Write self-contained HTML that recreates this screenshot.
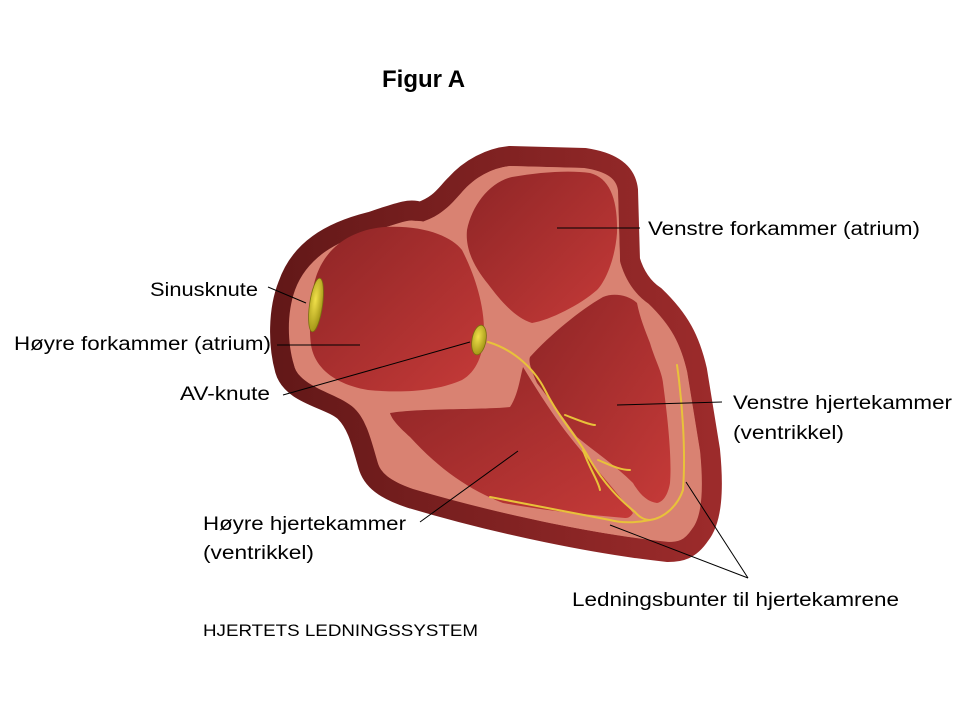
<!DOCTYPE html>
<html><head><meta charset="utf-8"><style>
html,body{margin:0;padding:0;background:#fff;}
svg{display:block;}
text{font-family:"Liberation Sans",sans-serif;fill:#000;}
</style></head><body>
<svg width="960" height="720" viewBox="0 0 960 720" xmlns="http://www.w3.org/2000/svg">
<defs>
<linearGradient id="ring" x1="0" y1="0" x2="1" y2="0">
<stop offset="0" stop-color="#631818"/><stop offset="1" stop-color="#9c2b2b"/>
</linearGradient>
<linearGradient id="ch" x1="0" y1="0" x2="1" y2="1">
<stop offset="0" stop-color="#8e2526"/><stop offset="1" stop-color="#c53a38"/>
</linearGradient>
<radialGradient id="yel" cx="0.4" cy="0.4" r="0.7">
<stop offset="0" stop-color="#f0e04a"/><stop offset="1" stop-color="#9a8d10"/>
</radialGradient>
</defs>
<text x="382" y="87" font-size="24" font-weight="bold">Figur A</text>

<path d="M370,222 C400,212 410,208 420,212 C440,205 445,195 455,185 C470,168 490,158 510,156 L585,158 C612,162 626,172 628,190 L630,260 C636,280 646,290 655,296 C680,320 690,340 697,370 L710,450 C714,490 712,520 700,535 C690,550 680,552 668,552 C600,545 500,525 410,498 C385,490 372,480 368,465 C362,445 358,425 345,412 C330,398 292,395 285,370 C278,345 278,310 288,285 C300,250 330,232 370,222 Z" fill="#d98272" stroke="url(#ring)" stroke-width="20" stroke-linejoin="round"/>
<path d="M372,232 C400,222 415,219 425,222 C440,215 455,202 462,192 C475,177 492,168 510,166 L582,168 C605,172 617,182 618,198 L620,262 C625,285 637,298 648,306 C671,326 681,345 687,372 L700,452 C703,488 701,514 691,527 C683,538 674,541 664,541 C600,535 505,516 413,489 C392,482 382,474 378,460 C372,440 368,422 354,408 C338,393 300,388 294,365 C287,342 287,312 295,290 C306,260 333,242 372,232 Z" fill="#d98272"/>

<path d="M312,300 C314,255 345,230 385,227 C425,225 452,237 462,250 C475,275 484,305 484,330 C484,355 476,372 462,380 C435,392 400,393 368,390 C338,385 315,370 311,345 C309,330 310,315 312,300 Z" fill="url(#ch)"/>
<path d="M467,230 C472,205 490,182 512,177 C540,172 570,170 590,173 C610,178 618,200 617,233 C615,260 605,282 597,290 C580,305 550,320 532,323 C515,318 500,300 488,284 C475,268 465,250 467,230 Z" fill="url(#ch)"/>
<path d="M530,357 C550,335 580,310 603,297 C615,292 630,296 637,303 C640,318 645,330 650,343 C655,360 662,372 663,383 C668,420 672,460 670,483 C668,495 663,502 657,503 C648,502 640,495 633,483 C615,465 595,452 577,437 C565,420 550,400 537,383 C532,372 528,362 530,357 Z" fill="url(#ch)"/>
<path d="M390,413 C420,408 480,410 510,407 C518,395 520,378 523,367 C540,395 555,418 570,437 C590,462 615,490 633,513 C630,518 627,518 625,518 C580,514 540,510 503,503 C470,490 440,470 410,437 C400,428 392,420 390,413 Z" fill="url(#ch)"/>

<g fill="none" stroke="#e8c23a" stroke-width="2" stroke-linecap="round">
<path d="M488,342 C515,350 535,370 545,390 C560,420 580,440 590,460 C605,485 620,500 635,512 C640,518 645,520 650,520"/>
<path d="M565,415 C578,420 590,425 595,425"/>
<path d="M583,450 C590,470 598,480 600,490"/>
<path d="M598,460 C610,465 620,470 630,470"/>
<path d="M490,497 C530,505 570,512 610,520 C625,524 640,522 650,520 C665,518 678,505 683,490 C686,450 682,400 677,365"/>
</g>

<ellipse cx="316" cy="305" rx="6.5" ry="27" transform="rotate(8 316 305)" fill="url(#yel)" stroke="#7a6e10" stroke-width="0.8"/>
<ellipse cx="479" cy="340" rx="7" ry="15" transform="rotate(10 479 340)" fill="url(#yel)" stroke="#7a6e10" stroke-width="0.8"/>

<g stroke="#000" stroke-width="1">
<line x1="557" y1="228" x2="640" y2="228"/>
<line x1="268" y1="287" x2="306" y2="303"/>
<line x1="277" y1="345" x2="360" y2="345"/>
<line x1="283" y1="395" x2="470" y2="342"/>
<line x1="617" y1="405" x2="722" y2="402"/>
<line x1="420" y1="522" x2="518" y2="451"/>
<line x1="610" y1="525" x2="748" y2="578"/>
<line x1="686" y1="482" x2="748" y2="578"/>
</g>

<g font-size="19">
<text x="648" y="235" textLength="272" lengthAdjust="spacingAndGlyphs">Venstre forkammer (atrium)</text>
<text x="150" y="296" textLength="108" lengthAdjust="spacingAndGlyphs">Sinusknute</text>
<text x="14" y="350" textLength="257" lengthAdjust="spacingAndGlyphs">Høyre forkammer (atrium)</text>
<text x="180" y="400" textLength="90" lengthAdjust="spacingAndGlyphs">AV-knute</text>
<text x="733" y="409" textLength="219" lengthAdjust="spacingAndGlyphs">Venstre hjertekammer</text>
<text x="733" y="439" textLength="111" lengthAdjust="spacingAndGlyphs">(ventrikkel)</text>
<text x="203" y="530" textLength="203" lengthAdjust="spacingAndGlyphs">Høyre hjertekammer</text>
<text x="203" y="559" textLength="111" lengthAdjust="spacingAndGlyphs">(ventrikkel)</text>
<text x="572" y="606" textLength="327" lengthAdjust="spacingAndGlyphs">Ledningsbunter til hjertekamrene</text>
</g>
<text x="203" y="636" font-size="17" textLength="275" lengthAdjust="spacingAndGlyphs">HJERTETS LEDNINGSSYSTEM</text>
</svg>
</body></html>
